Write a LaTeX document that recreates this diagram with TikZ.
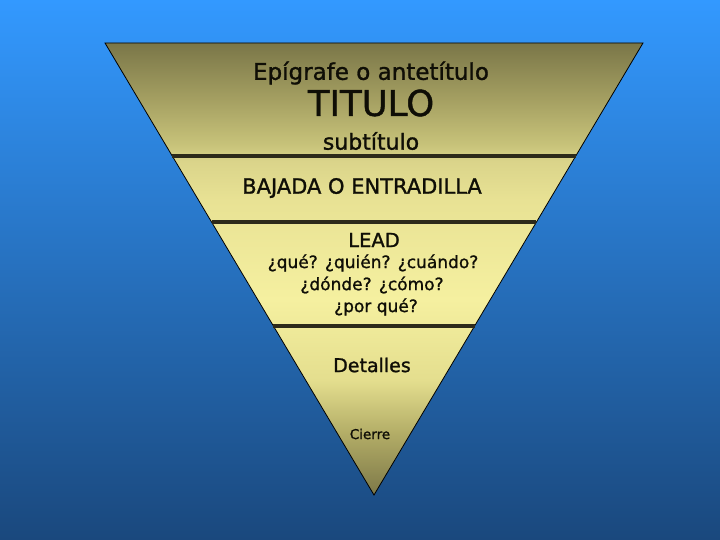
\documentclass[tikz,border=0pt]{standalone}
\usepackage{fontspec}
\setmainfont{DejaVu Sans}[FakeBold=1.2]
\usetikzlibrary{calc}
\definecolor{bgtop}{RGB}{51,153,255}
\definecolor{bgbot}{RGB}{26,72,125}
\definecolor{divcol}{RGB}{45,42,26}
\definecolor{txtcol}{RGB}{15,14,6}
\pgfdeclareverticalshading{trishade}{100bp}{%
  rgb(0bp)=(0.490,0.471,0.282);
  rgb(25bp)=(0.490,0.471,0.282);
  rgb(31.75bp)=(0.698,0.675,0.400);
  rgb(37.7bp)=(0.894,0.871,0.557);
  rgb(46.6bp)=(0.961,0.941,0.627);
  rgb(57.6bp)=(0.910,0.886,0.580);
  rgb(62bp)=(0.855,0.831,0.541);
  rgb(63.7bp)=(0.784,0.765,0.478);
  rgb(68.7bp)=(0.647,0.627,0.384);
  rgb(75bp)=(0.478,0.463,0.282);
  rgb(100bp)=(0.478,0.463,0.282)}
\begin{document}
\begin{tikzpicture}[x=1pt,y=-1pt,
  txt/.style={inner sep=0pt, text=txtcol, anchor=center},
  divider/.style={draw=divcol, line width=4pt}]
\shade[top color=bgtop, bottom color=bgbot] (0,0) rectangle (720,540);
\useasboundingbox (0,0) rectangle (720,540);
\coordinate (tl) at (105,43);
\coordinate (tr) at (643,43);
\coordinate (ap) at (374,495);
\shade[shading=trishade] (tl) -- (tr) -- (ap) -- cycle;
\draw[black, line width=0.8pt] (tl) -- (tr) -- (ap) -- cycle;
\coordinate (d1l) at ($(tl)!0.25!(ap)$);
\coordinate (d1r) at ($(tr)!0.25!(ap)$);
\coordinate (d2l) at ($(tl)!0.396!(ap)$);
\coordinate (d2r) at ($(tr)!0.396!(ap)$);
\coordinate (d3l) at ($(tl)!0.626!(ap)$);
\coordinate (d3r) at ($(tr)!0.626!(ap)$);
\draw[divider] (d1l) -- (d1r);
\draw[divider] (d2l) -- (d2r);
\draw[divider] (d3l) -- (d3r);
\node[txt, font=\fontsize{23}{26}\selectfont] (epi) at (371,73) {Epígrafe o antetítulo};
\node[txt, font=\fontsize{35.5}{40}\selectfont] (tit) at (371,103) {TITULO};
\node[txt, font=\fontsize{22}{26}\selectfont] (sub) at (371,141) {subtítulo};
\node[txt, font=\fontsize{21}{24}\selectfont] (baj) at (362,188) {BAJADA O ENTRADILLA};
\node[txt, font=\fontsize{19.5}{22}\selectfont] (lead) at (374,240) {LEAD};
\node[txt, font=\fontsize{17}{20}\selectfont] (q1) at (373,263) {¿qué? ¿quién? ¿cuándo?};
\node[txt, font=\fontsize{17}{20}\selectfont] (q2) at (372,285) {¿dónde? ¿cómo?};
\node[txt, font=\fontsize{17}{20}\selectfont] (q3) at (376,307) {¿por qué?};
\node[txt, font=\fontsize{19}{22}\selectfont] (det) at (372,365) {Detalles};
\node[txt, font=\fontsize{13.5}{16}\selectfont] (cie) at (370,434) {Cierre};
\end{tikzpicture}
\end{document}
